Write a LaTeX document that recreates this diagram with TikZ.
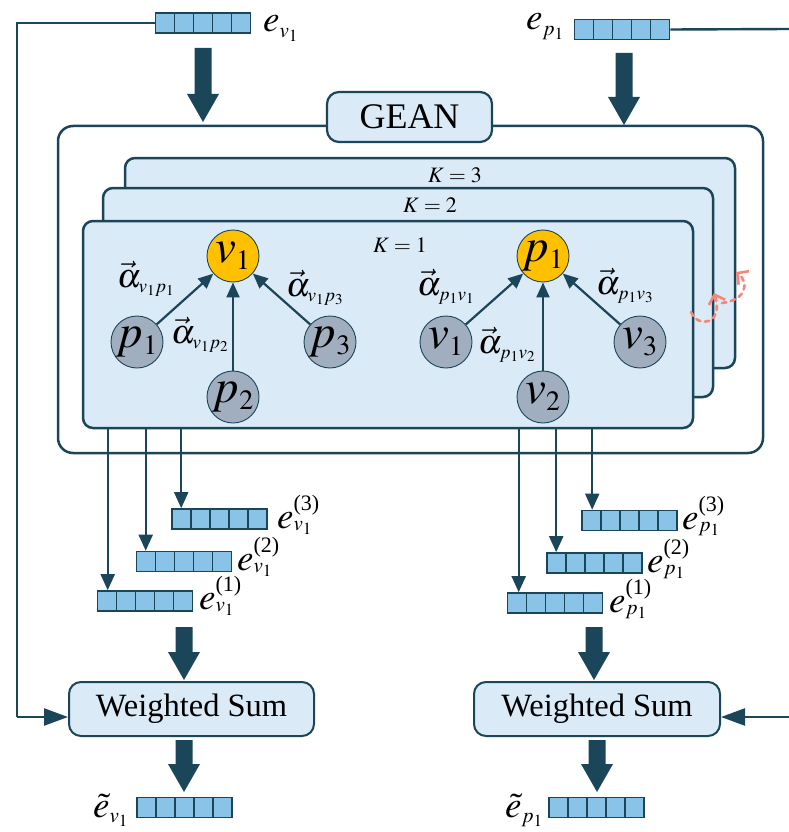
\documentclass[tikz,border=0pt]{standalone}
\usepackage{mathptmx}
\usepackage{fontspec}
\setmainfont{Liberation Serif}
\usetikzlibrary{arrows.meta}
\DeclareMathSizes{37}{37}{21}{17}
\DeclareMathSizes{34}{34}{19}{15}
\DeclareMathSizes{47}{47}{28}{20}
\DeclareMathSizes{22}{22}{15}{12}
\definecolor{dk}{RGB}{27,69,88}
\definecolor{lb}{RGB}{218,234,247}
\definecolor{cellc}{RGB}{137,196,232}
\definecolor{yel}{RGB}{255,192,0}
\definecolor{gry}{RGB}{160,174,192}
\definecolor{pnk}{RGB}{248,134,120}
\newcommand{\bigdn}[3]{\fill[dk] ({#1-8.5},#2) -- ({#1+8.5},#2) -- ({#1+8.5},{#3-28}) -- ({#1+16},{#3-28}) -- (#1,#3) -- ({#1-16},{#3-28}) -- ({#1-8.5},{#3-28}) -- cycle;}
\newcommand{\supk}[1]{\raisebox{-7pt}{\fontsize{22}{24}\selectfont(#1)}}
\begin{document}
\begin{tikzpicture}[x=1pt,y=-1pt,
  layerbox/.style={draw=dk, line width=2.5pt, fill=lb, rounded corners=10pt, inner sep=0pt, minimum width=610pt},
  outerbox/.style={draw=dk, line width=2.5pt, rounded corners=15pt, inner sep=0pt},
  labbox/.style={draw=dk, line width=2.2pt, fill=lb, rounded corners=12pt, inner sep=0pt},
  embed/.style={draw=dk, line width=1.6pt, fill=cellc, minimum width=95pt, minimum height=20pt, inner sep=0pt,
     path picture={\foreach \i in {1,...,4}{\draw[dk,line width=1.6pt] ([xshift=\i*19pt]path picture bounding box.south west) -- ([xshift=\i*19pt]path picture bounding box.north west);}}},
  ycirc/.style={circle, draw=dk, line width=0.9pt, fill=yel, minimum size=52pt, inner sep=0pt, font=\fontsize{47}{49}\selectfont},
  gcirc/.style={circle, draw=dk, line width=0.9pt, fill=gry, minimum size=52pt, inner sep=0pt, font=\fontsize{47}{49}\selectfont},
  garr/.style={draw=dk, line width=2.2pt, -{Triangle[length=15pt,width=13pt]}},
  oarr/.style={draw=dk, line width=2pt, -{Triangle[length=16pt,width=14pt]}},
  looparr/.style={draw=dk, line width=2.4pt, -{Triangle[length=24pt,width=17pt]}},
  loopline/.style={draw=dk, line width=2.4pt},
  alab/.style={anchor=base west, inner sep=0pt, font=\fontsize{34}{36}\selectfont},
  elab/.style={anchor=base west, inner sep=0pt, font=\fontsize{37}{39}\selectfont},
  klab/.style={anchor=base west, inner sep=0pt, font=\fontsize{22}{24}\selectfont},
  pinkarr/.style={draw=pnk, line width=2.6pt, dash pattern=on 4.5pt off 4.5pt, line cap=round, -{Straight Barb[length=8pt,width=17pt]}}
]
\useasboundingbox (0,0) rectangle (789,832);

% outer GEAN box
\node[outerbox, minimum width=705pt, minimum height=327pt] (gean) at (410.5,289.5) {};
\node[labbox, minimum width=165pt, minimum height=50pt, font=\fontsize{36}{38}\selectfont] (geanlab) at (409.5,117) {GEAN};

% layer boxes
\node[layerbox, minimum height=210pt] (k3) at (430,263) {};
\node[layerbox, minimum height=209pt] (k2) at (408,292.5) {};
\node[layerbox, minimum height=207pt] (k1) at (388,324.5) {};
\node[klab] (k3lab) at (428,182) {$K=3$};
\node[klab] (k2lab) at (403,212) {$K=2$};
\node[klab] (k1lab) at (373,252) {$K=1$};

% left graph
\node[ycirc] (v1L) at (233,256) {$v_1$};
\node[gcirc] (p1L) at (137,342) {$p_1$};
\node[gcirc] (p2L) at (233,397) {$p_2$};
\node[gcirc] (p3L) at (330,342) {$p_3$};
\draw[garr] (p1L) -- (v1L);
\draw[garr] (p2L) -- (v1L);
\draw[garr] (p3L) -- (v1L);
\node[alab] (a11) at (117,287) {$\vec{\alpha}_{v_1p_1}$};
\node[alab] (a12) at (171,343) {$\vec{\alpha}_{v_1p_2}$};
\node[alab] (a13) at (286,296) {$\vec{\alpha}_{v_1p_3}$};

% right graph
\node[ycirc] (p1R) at (543,256) {$p_1$};
\node[gcirc] (v1R) at (446,342) {$v_1$};
\node[gcirc] (v2R) at (543,397) {$v_2$};
\node[gcirc] (v3R) at (640,342) {$v_3$};
\draw[garr] (v1R) -- (p1R);
\draw[garr] (v2R) -- (p1R);
\draw[garr] (v3R) -- (p1R);
\node[alab] (a21) at (417,295) {$\vec{\alpha}_{p_1v_1}$};
\node[alab] (a22) at (478,353) {$\vec{\alpha}_{p_1v_2}$};
\node[alab] (a23) at (596,294) {$\vec{\alpha}_{p_1v_3}$};

% pink dashed curved arrows
\draw[pinkarr] (691,312) .. controls (698,329) and (724,324) .. (714,293);
\draw[pinkarr] (722,303) .. controls (747,300) and (749,282) .. (736,272);

% top embeddings
\node[embed] (ev1top) at (203,23) {};
\node[elab] (ev1toplab) at (263,32) {$e_{v_1}$};
\node[embed] (ep1top) at (622,29.5) {};
\node[elab] (ep1toplab) at (526,30) {$e_{p_1}$};
\bigdn{203}{48}{122}
\bigdn{624}{53}{125}

% layer embeddings (left)
\node[embed] (ev13) at (219.5,519) {};
\node[embed] (ev12) at (184,561.5) {};
\node[embed] (ev11) at (145,601) {};
\node[elab] (ev13lab) at (277,528) {$e^{\supk{3}}_{v_1}$};
\node[elab] (ev12lab) at (237,570) {$e^{\supk{2}}_{v_1}$};
\node[elab] (ev11lab) at (199,609) {$e^{\supk{1}}_{v_1}$};
\draw[oarr] ([xshift=11pt]ev11.north west |- k1.south) -- ([xshift=11pt]ev11.north west);
\draw[oarr] ([xshift=10pt]ev12.north west |- k1.south) -- ([xshift=10pt]ev12.north west);
\draw[oarr] ([xshift=10pt]ev13.north west |- k1.south) -- ([xshift=10pt]ev13.north west);

% layer embeddings (right)
\node[embed] (ep13) at (629.5,520.5) {};
\node[embed] (ep12) at (594.5,563) {};
\node[embed] (ep11) at (555,603) {};
\node[elab] (ep13lab) at (682,529) {$e^{\supk{3}}_{p_1}$};
\node[elab] (ep12lab) at (647,572) {$e^{\supk{2}}_{p_1}$};
\node[elab] (ep11lab) at (609,612) {$e^{\supk{1}}_{p_1}$};
\draw[oarr] ([xshift=12pt]ep11.north west |- k1.south) -- ([xshift=12pt]ep11.north west);
\draw[oarr] ([xshift=10pt]ep12.north west |- k1.south) -- ([xshift=10pt]ep12.north west);
\draw[oarr] ([xshift=11pt]ep13.north west |- k1.south) -- ([xshift=11pt]ep13.north west);

% weighted sums
\node[labbox, line width=2pt, minimum width=245pt, minimum height=54pt, font=\fontsize{32.5}{34}\selectfont] (wsL) at (191.5,709) {Weighted Sum};
\node[labbox, line width=2pt, minimum width=246pt, minimum height=54pt, font=\fontsize{32.5}{34}\selectfont] (wsR) at (597,709) {Weighted Sum};
\bigdn{184}{627}{680}
\bigdn{594}{627}{680}
\bigdn{184}{740}{792}
\bigdn{597}{740}{792}

% outputs
\node[embed] (outL) at (184.5,807.5) {};
\node[embed] (outR) at (596.5,807.5) {};
\node[elab] (outLlab) at (93,817) {$\tilde{e}_{v_1}$};
\node[elab] (outRlab) at (505,817) {$\tilde{e}_{p_1}$};

% skip connections
\coordinate (lc1) at (17,23);
\coordinate (lc2) at (17,717);
\draw[loopline] (ev1top.west) -- (lc1) -- (lc2);
\draw[looparr] (lc2) -- (lc2 -| wsL.west);
\coordinate (rc1) at (789,29);
\coordinate (rc2) at (789,717);
\draw[loopline] (ep1top.east) -- (rc1);
\draw[looparr] (rc2) -- (rc2 -| wsR.east);
\end{tikzpicture}
\end{document}
